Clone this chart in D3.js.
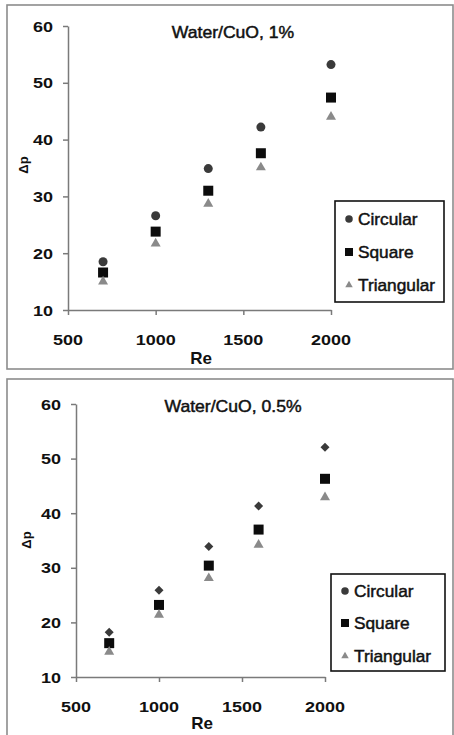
<!DOCTYPE html>
<html>
<head>
<meta charset="utf-8">
<script src="https://cdn.jsdelivr.net/npm/d3@7"></script>
<style>
  html, body { margin: 0; padding: 0; background: #fff; }
  svg { display: block; font-family: "Liberation Sans", Arial, sans-serif; }
</style>
</head>
<body>
<svg id="chart" width="454" height="735"></svg>
<script>
// ---- data ----
const reynolds = [700, 1000, 1300, 1600, 2000];
const seriesNames = ["Circular", "Square", "Triangular"];
const circular1 = [18.5, 26.6, 34.9, 42.2, 53.2];
const square1 = [16.6, 23.8, 31.0, 37.6, 47.4];
const triangular1 = [15.0, 21.7, 28.7, 35.1, 44.0];
const circular05 = [18.2, 25.9, 33.9, 41.3, 52.1];
const square05 = [16.2, 23.2, 30.4, 37.0, 46.3];
const triangular05 = [14.6, 21.4, 28.1, 34.2, 42.9];
const xTicks = [500, 1000, 1500, 2000];
const yTicks = [10, 20, 30, 40, 50, 60];
const titles = ["Water/CuO, 1%", "Water/CuO, 0.5%"];

const svg = d3.select("#chart");

function stretchedText(g, x, y, txt, opts) {
  const t = g.append("g").attr("transform", `translate(${x},${y}) scale(${opts.sx || 1.1},1)`)
    .append("text")
    .attr("text-anchor", opts.anchor || "start")
    .attr("font-size", opts.size)
    .attr("font-weight", opts.weight || "normal")
    .attr("fill", opts.fill || "#111")
    .text(txt);
  if (opts.stroke) t.attr("stroke", opts.fill || "#111").attr("stroke-width", opts.stroke);
  return t;
}

const panels = [
  {
    frame: [7, 5, 453, 369],
    xr: [68, 331], yr: [310, 26],
    title: titles[0], titleXY: [233, 38],
    reXY: [201, 364], dpXY: [24, 165],
    legend: { x: 335, y: 201, w: 109, h: 101, rows: [219, 252, 285], mx: 349, tx: 358 },
    data: [circular1, square1, triangular1],
    firstShape: "circle"
  },
  {
    frame: [7, 379, 453, 740],
    xr: [76, 325], yr: [677, 404],
    title: titles[1], titleXY: [233, 412],
    reXY: [202, 729], dpXY: [27, 540],
    legend: { x: 331, y: 574, w: 114, h: 97, rows: [591, 623, 656], mx: 345, tx: 354 },
    data: [circular05, square05, triangular05],
    firstShape: "diamond"
  }
];

const colors = ["#3a3a3a", "#0c0c0c", "#8a8a8a"];

function drawMarker(g, shape, x, y, s, color) {
  if (shape === "circle") {
    g.append("path").attr("d", d3.symbol().type(d3.symbolCircle).size(Math.PI * s * s / 4)())
      .attr("transform", `translate(${x},${y})`).attr("fill", color);
  } else if (shape === "square") {
    g.append("path").attr("d", d3.symbol().type(d3.symbolSquare).size(s * s)())
      .attr("transform", `translate(${x},${y})`).attr("fill", color);
  } else if (shape === "diamond") {
    g.append("path").attr("d", d3.symbol().type(d3.symbolSquare).size(s * s / 2)())
      .attr("transform", `translate(${x},${y}) rotate(45)`).attr("fill", color);
  } else if (shape === "triangle") {
    g.append("path").attr("d", d3.symbol().type(d3.symbolTriangle).size(Math.sqrt(3) / 4 * s * s)())
      .attr("transform", `translate(${x},${y})`).attr("fill", color);
  }
}

panels.forEach(p => {
  const g = svg.append("g");
  // outer frame
  g.append("rect")
    .attr("x", p.frame[0]).attr("y", p.frame[1])
    .attr("width", p.frame[2] - p.frame[0]).attr("height", p.frame[3] - p.frame[1])
    .attr("fill", "none").attr("stroke", "#8c8c8c").attr("stroke-width", 1.6);

  const x = d3.scaleLinear().domain([500, 2000]).range(p.xr);
  const y = d3.scaleLinear().domain([10, 60]).range(p.yr);

  // axes
  const xAxis = g.append("g").attr("transform", `translate(0,${p.yr[0]})`)
    .call(d3.axisBottom(x).tickValues(xTicks).tickSize(5).tickSizeOuter(0).tickFormat(() => ""));
  const yAxis = g.append("g").attr("transform", `translate(${p.xr[0]},0)`)
    .call(d3.axisLeft(y).tickValues(yTicks).tickSize(5).tickSizeOuter(0).tickFormat(() => ""));
  [xAxis, yAxis].forEach(a => {
    a.select(".domain").attr("stroke", "#7a7a7a").attr("stroke-width", 1.5);
    a.selectAll(".tick line").attr("stroke", "#7a7a7a").attr("stroke-width", 1.5);
  });

  // tick labels
  xTicks.forEach(v => stretchedText(g, x(v), p.yr[0] + 35, d3.format("d")(v), { anchor: "middle", size: 15, weight: "bold", sx: 1.2 }));
  yTicks.forEach(v => stretchedText(g, p.xr[0] - 15, y(v) + 5.5, d3.format("d")(v), { anchor: "end", size: 15, weight: "bold", sx: 1.2 }));

  // titles & axis titles
  stretchedText(g, p.titleXY[0], p.titleXY[1], p.title, { anchor: "middle", size: 16, stroke: 0.45 });
  stretchedText(g, p.reXY[0], p.reXY[1], "Re", { anchor: "middle", size: 17, weight: "bold", sx: 1.0 });
  g.append("text")
    .attr("transform", `translate(${p.dpXY[0] + 4},${p.dpXY[1]}) rotate(-90)`)
    .attr("text-anchor", "middle").attr("font-size", 13).attr("font-weight", "bold").attr("fill", "#111")
    .text("Δp");

  // data
  const shapes = [p.firstShape, "square", "triangle"];
  const sizes = [9, 10, 10];
  p.data.forEach((vals, si) => {
    vals.forEach((v, i) => drawMarker(g, shapes[si], x(reynolds[i]), y(v), sizes[si], colors[si]));
  });

  // legend
  const L = p.legend;
  g.append("rect").attr("x", L.x).attr("y", L.y).attr("width", L.w).attr("height", L.h)
    .attr("fill", "#fff").attr("stroke", "#111").attr("stroke-width", 1.6);
  const legShapes = ["circle", "square", "triangle"];
  seriesNames.forEach((name, i) => {
    drawMarker(g, legShapes[i], L.mx, L.rows[i], i === 1 ? 8 : 7.5, colors[i]);
    stretchedText(g, L.tx, L.rows[i] + 6, name, { size: 16, sx: 1.08, stroke: 0.45 });
  });
});
</script>
</body>
</html>
